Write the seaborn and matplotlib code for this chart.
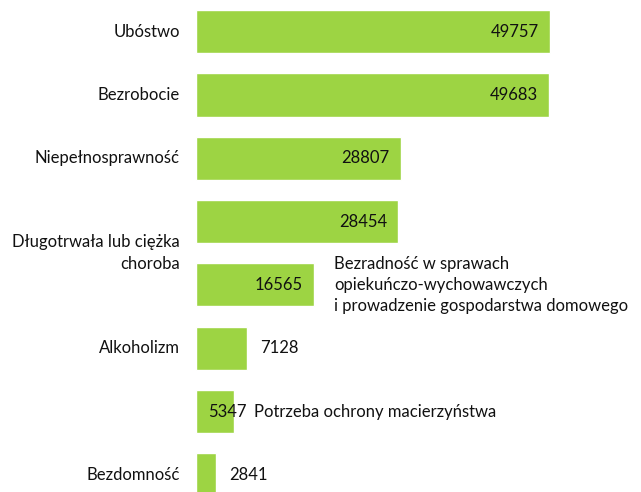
import numpy as np
import pandas as pd
import matplotlib
matplotlib.use("Agg")
import matplotlib.pyplot as plt
import seaborn as sns

CATEGORIES = [
    "Ubóstwo",
    "Bezrobocie",
    "Niepełnosprawność",
    "Długotrwała lub ciężka\nchoroba",
    "Bezradność w sprawach\nopiekuńczo-wychowawczych\ni prowadzenie gospodarstwa domowego",
    "Alkoholizm",
    "Potrzeba ochrony macierzyństwa",
    "Bezdomność",
]
VALUES = [49757, 49683, 28807, 28454, 16565, 7128, 5347, 2841]

GREEN = "#9DD443"
TEXT = "#111111"
FONT = "Lato"

sns.set_theme(style="white")
plt.rcParams["font.family"] = [FONT, "DejaVu Sans"]

df = pd.DataFrame({"cat": CATEGORIES, "val": VALUES})

fig = plt.figure(figsize=(6.41, 4.92), dpi=100)
ax = fig.add_axes([196 / 641, 0, 445 / 641, 1])
sns.barplot(data=df, y="cat", x="val", orient="h", color=GREEN,
            saturation=1, width=0.68, ax=ax)

ax.set_xlim(0, 62600)
ax.set_ylim(7.27, -0.5)
ax.set_xlabel("")
ax.set_ylabel("")
ax.set_xticks([])
ax.set_yticks([])
sns.despine(ax=ax, left=True, bottom=True)

fs = 12
# category labels: most on the left, two placed to the right of the bar
for i, (cat, v) in enumerate(zip(CATEGORIES, VALUES)):
    if i == 4:
        ax.annotate(cat, (v, i), xytext=(20, 0), textcoords="offset pixels",
                    ha="left", va="center", fontsize=fs, color=TEXT,
                    linespacing=1.4)
    elif i == 6:
        ax.annotate(cat, (v, i), xytext=(20, 0), textcoords="offset pixels",
                    ha="left", va="center", fontsize=fs, color=TEXT)
    elif i == 3:
        ax.annotate(cat, (0, i + 0.5), xytext=(-16, 0), textcoords="offset pixels",
                    ha="right", va="center", fontsize=fs, color=TEXT,
                    linespacing=1.45)
    else:
        ax.annotate(cat, (0, i), xytext=(-16, 0), textcoords="offset pixels",
                    ha="right", va="center", fontsize=fs, color=TEXT)

# value labels
for i, v in enumerate(VALUES):
    if v > 10000:
        ax.annotate(f"{v}", (v, i), xytext=(-11, 0), textcoords="offset pixels",
                    ha="right", va="center", fontsize=fs, color=TEXT)
    elif i == 6:
        ax.annotate(f"{v}", (v, i), xytext=(13, 0), textcoords="offset pixels",
                    ha="right", va="center", fontsize=fs, color=TEXT)
    else:
        ax.annotate(f"{v}", (v, i), xytext=(13, 0), textcoords="offset pixels",
                    ha="left", va="center", fontsize=fs, color=TEXT)

fig.savefig("out.png", dpi=100, facecolor="white")
